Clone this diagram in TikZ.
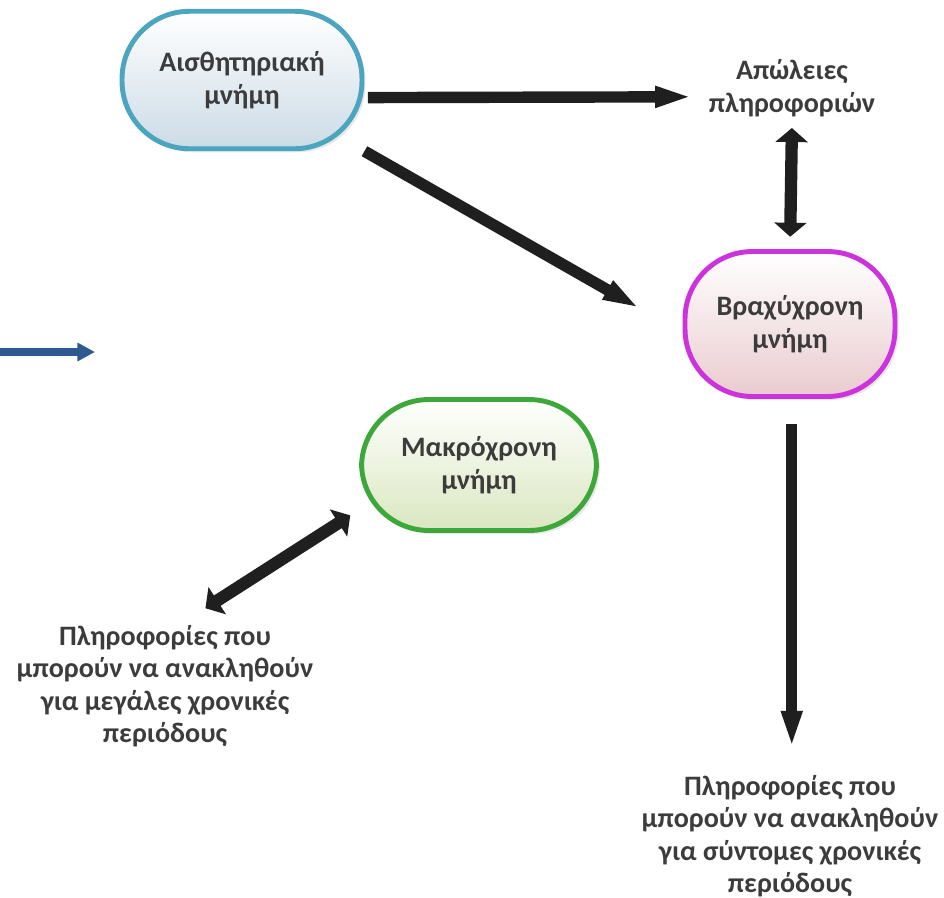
\documentclass[tikz,border=0pt]{standalone}
\usepackage{fontspec}
\setmainfont{Carlito}
\usetikzlibrary{arrows.meta,shadows}
\definecolor{txtgray}{HTML}{3C3C3C}
\definecolor{sensline}{HTML}{4BA5BF}
\definecolor{shortline}{HTML}{CC33DD}
\definecolor{longline}{HTML}{3DA83A}
\definecolor{bluearr}{HTML}{2E5A92}
\definecolor{sensbot}{HTML}{CCDBE6}
\definecolor{shortbot}{HTML}{EACBCF}
\definecolor{longbot}{HTML}{DAE7C0}
\tikzset{
  mem/.style={rectangle, rounded corners=1.35cm, line width=2.8pt,
              align=center, font=\fontsize{16}{18.5}\selectfont\bfseries,
              text=txtgray, inner sep=0pt,
              drop shadow={opacity=0.18, shadow xshift=2pt, shadow yshift=-2pt}},
  sensory/.style={mem, draw=sensline, top color=white, bottom color=sensbot,
                  minimum width=4.8cm, minimum height=2.75cm},
  shortmem/.style={mem, draw=shortline, top color=white, bottom color=shortbot,
                   minimum width=4.2cm, minimum height=2.9cm},
  longmem/.style={mem, draw=longline, top color=white, bottom color=longbot,
                  minimum width=4.7cm, minimum height=2.62cm},
  info/.style={align=center, font=\fontsize{16}{18.5}\selectfont\bfseries, text=txtgray},
  bigarr/.style={line width=6.5pt, draw=black!88,
                 -{Triangle[length=25pt,width=10pt]}},
  dblarr/.style={line width=7pt, draw=black!88,
                 {Triangle[length=8pt,width=18pt]}-{Triangle[length=8pt,width=18pt]}},
  bluearrow/.style={line width=4pt, draw=bluearr, -{Triangle[length=10pt,width=10pt]}},
}
\begin{document}
\begin{tikzpicture}[x=0.02cm, y=-0.02cm]
  \useasboundingbox (0,0) rectangle (944,897);

  % memory stores
  \node[sensory] (sens) at (242,80) {Αισθητηριακή\\μνήμη};
  \node[shortmem] (brax) at (790,324) {Βραχύχρονη\\μνήμη};
  \node[longmem] (makr) at (479,465) {Μακρόχρονη\\μνήμη};

  % texts
  \node[info] (losses) at (792,88) {Απώλειες\\πληροφοριών};
  \node[info] (shortinfo) at (790,836)
    {Πληροφορίες που\\μπορούν να ανακληθούν\\για σύντομες χρονικές\\περιόδους};
  \node[info] (longinfo) at (165,686)
    {Πληροφορίες που\\μπορούν να ανακληθούν\\για μεγάλες χρονικές\\περιόδους};

  \coordinate (bluestart) at (0,352);
  \coordinate (blueend) at (95,352);

  % connectors
  \draw[bigarr] ([xshift=2pt,yshift=-10pt]sens.east) -- ([xshift=-2pt,yshift=-5pt]losses.west);
  \draw[bigarr] (sens.south east) -- ([xshift=-21pt,yshift=7pt]brax.west);
  \draw[dblarr, shorten <=3pt, shorten >=7pt] (losses.south) -- (brax.north);
  \draw[bigarr, shorten <=14pt, shorten >=8pt] ([xshift=1pt]brax.south) -- ([xshift=1pt]shortinfo.north);
  \draw[dblarr] ([xshift=-5pt,yshift=10pt]makr.south west) -- ([xshift=23pt,yshift=6pt]longinfo.north);
  \draw[bluearrow] (bluestart) -- (blueend);

\end{tikzpicture}
\end{document}
